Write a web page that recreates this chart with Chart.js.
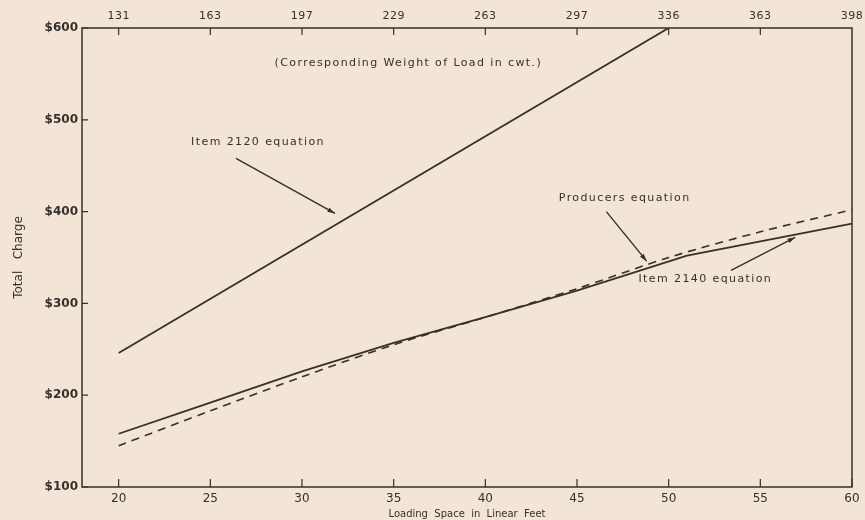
<!DOCTYPE html>
<html>
<head>
<meta charset="utf-8">
<script src="https://cdn.jsdelivr.net/npm/chart.js@4"></script>
<style>
  html, body { margin: 0; padding: 0; background: #f2e5d5; }
  #wrap { width: 865px; height: 520px; position: relative; }
</style>
</head>
<body>
<div id="wrap"><canvas id="chart"></canvas></div>
<script>
// loading space (linear feet) and matching weight of load (cwt.)
const feetTicks = [20, 25, 30, 35, 40, 45, 50, 55, 60];
const cwtLabels = ['131', '163', '197', '229', '263', '297', '336', '363', '398'];
const chargeTicks = [100, 200, 300, 400, 500, 600];

// series
const item2120Feet = [20, 50];
const item2120Charge = [246, 600];
const item2140Feet = [20, 25, 30, 35, 40, 45, 51, 60];
const item2140Charge = [158, 192, 226, 257, 285, 314, 352, 387];
const producersFeet = [20, 25, 30, 35, 40, 45, 50, 55, 60];
const producersCharge = [145, 183, 220, 255, 285, 316, 350, 378, 402];

const ink = '#35302b';
const font = '"DejaVu Sans", sans-serif';

const toPoints = (xs, ys) => xs.map((x, i) => ({ x: x, y: ys[i] }));

// notes on the plot, placed in data units
const notes = [
  { text: '(Corresponding Weight of Load in cwt.)', x: 35.8, y: 562 },
  { text: 'Item 2120 equation', x: 27.6, y: 476 },
  { text: 'Producers equation', x: 47.6, y: 415 },
  { text: 'Item 2140 equation', x: 52.0, y: 326 }
];
const arrows = [
  { from: [26.4, 458], to: [31.8, 398] },
  { from: [46.6, 400], to: [48.8, 346] },
  { from: [53.4, 336], to: [56.9, 372] }
];

const framePlugin = {
  id: 'frame',
  afterDraw(chart) {
    const ctx = chart.ctx;
    const a = chart.chartArea;
    const xs = chart.scales.x, ys = chart.scales.y;
    ctx.save();
    ctx.strokeStyle = ink;
    ctx.lineWidth = 1.5;
    ctx.strokeRect(a.left, a.top, a.right - a.left, a.bottom - a.top);
    // inward tick marks
    ctx.lineWidth = 1.2;
    ctx.beginPath();
    feetTicks.forEach(v => {
      const px = xs.getPixelForValue(v);
      ctx.moveTo(px, a.bottom); ctx.lineTo(px, a.bottom - 8);
      if (v < 60) { ctx.moveTo(px, a.top); ctx.lineTo(px, a.top + 7); }
    });
    chargeTicks.forEach(v => {
      const py = ys.getPixelForValue(v);
      ctx.moveTo(a.left, py); ctx.lineTo(a.left + 6, py);
    });
    ctx.stroke();

    // top scale: weight of load in cwt.
    ctx.fillStyle = ink;
    ctx.font = '11px ' + font;
    ctx.letterSpacing = '0.5px';
    ctx.textAlign = 'center';
    ctx.textBaseline = 'middle';
    feetTicks.forEach((v, i) => {
      ctx.fillText(cwtLabels[i], xs.getPixelForValue(v), a.top - 12);
    });

    // notes
    ctx.font = '11px ' + font;
    ctx.letterSpacing = '1.4px';
    notes.forEach(n => {
      ctx.fillText(n.text, xs.getPixelForValue(n.x), ys.getPixelForValue(n.y));
    });

    // arrows
    ctx.lineWidth = 1.4;
    arrows.forEach(ar => {
      const x1 = xs.getPixelForValue(ar.from[0]), y1 = ys.getPixelForValue(ar.from[1]);
      const x2 = xs.getPixelForValue(ar.to[0]), y2 = ys.getPixelForValue(ar.to[1]);
      ctx.beginPath();
      ctx.moveTo(x1, y1); ctx.lineTo(x2, y2); ctx.stroke();
      const ang = Math.atan2(y2 - y1, x2 - x1);
      ctx.beginPath();
      ctx.moveTo(x2, y2);
      ctx.lineTo(x2 - 8 * Math.cos(ang - 0.3), y2 - 8 * Math.sin(ang - 0.3));
      ctx.lineTo(x2 - 8 * Math.cos(ang + 0.3), y2 - 8 * Math.sin(ang + 0.3));
      ctx.closePath();
      ctx.fill();
    });
    ctx.restore();
  }
};

new Chart(document.getElementById('chart').getContext('2d'), {
  type: 'line',
  data: {
    datasets: [
      {
        label: 'Item 2120 equation',
        data: toPoints(item2120Feet, item2120Charge),
        borderColor: ink, borderWidth: 1.8, pointRadius: 0, tension: 0
      },
      {
        label: 'Item 2140 equation',
        data: toPoints(item2140Feet, item2140Charge),
        borderColor: ink, borderWidth: 1.8, pointRadius: 0, tension: 0
      },
      {
        label: 'Producers equation',
        data: toPoints(producersFeet, producersCharge),
        borderColor: ink, borderWidth: 1.6, borderDash: [8, 6], pointRadius: 0, tension: 0.3
      }
    ]
  },
  options: {
    responsive: true,
    maintainAspectRatio: false,
    animation: false,
    layout: { padding: { left: 0, right: 13, top: 28, bottom: 0 } },
    plugins: { legend: { display: false }, tooltip: { enabled: false } },
    scales: {
      x: {
        type: 'linear', position: 'bottom', min: 18, max: 60,
        afterBuildTicks: s => { s.ticks = feetTicks.map(v => ({ value: v })); },
        afterFit: s => { s.height = 33; },
        grid: { display: false, drawTicks: false },
        border: { display: false },
        ticks: { color: ink, font: { family: font, size: 12 }, padding: 5, maxRotation: 0 },
        title: {
          display: true, text: 'Loading  Space  in  Linear  Feet',
          color: ink, font: { family: font, size: 10 }, padding: { top: 0, bottom: 0 }
        }
      },
      y: {
        min: 100, max: 600,
        afterBuildTicks: s => { s.ticks = chargeTicks.map(v => ({ value: v })); },
        afterFit: s => { s.width = 82; },
        grid: { display: false, drawTicks: false },
        border: { display: false },
        ticks: { color: ink, font: { family: font, size: 12, weight: 'bold' }, padding: 4, callback: v => '$' + v },
        title: {
          display: true, text: 'Total   Charge',
          color: ink, font: { family: font, size: 12 }, padding: { top: 12, bottom: 0 }
        }
      }
    }
  },
  plugins: [framePlugin]
});
</script>
</body>
</html>
